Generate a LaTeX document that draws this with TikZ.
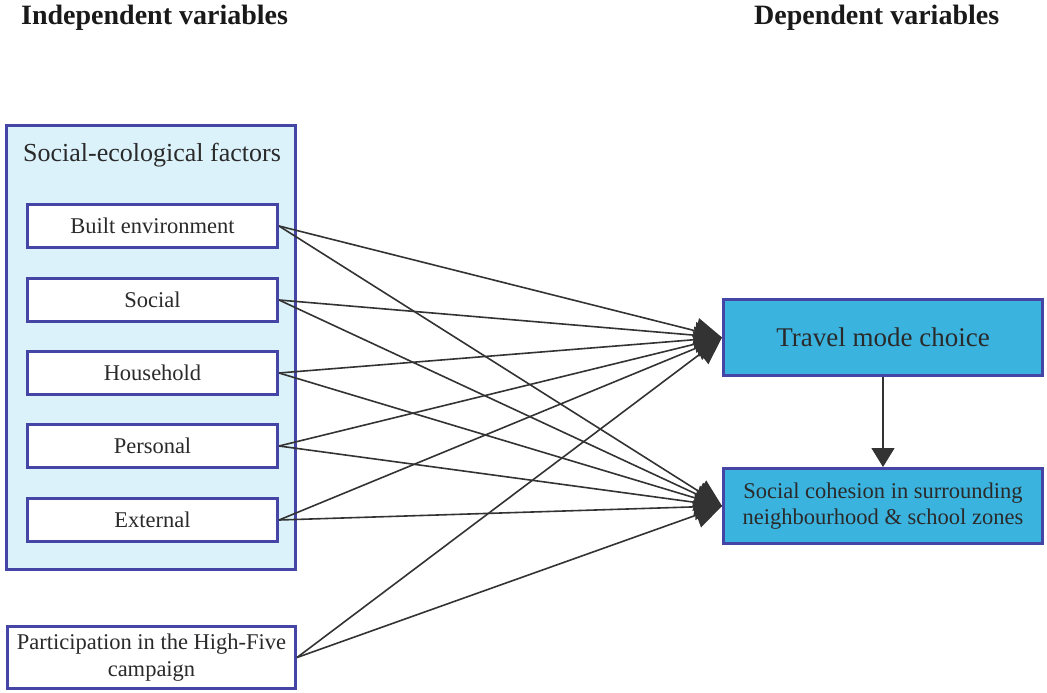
\documentclass[tikz,border=0pt]{standalone}
\usepackage{fontspec}
\setmainfont{Liberation Serif}[UprightFont=*, BoldFont=* Bold]
\newfontfamily\boxserif{Liberation Serif}[UprightFont=*, BoldFont=* Bold, ItalicFont=* Italic]
\usetikzlibrary{arrows.meta}
\definecolor{frameblue}{HTML}{4545A6}
\definecolor{paleblue}{HTML}{DCF2FA}
\definecolor{dvblue}{HTML}{3BB3DF}
\definecolor{inktext}{HTML}{2A2A2A}
\definecolor{linkgray}{HTML}{333333}
\tikzset{
  heading/.style={font=\boxserif\fontsize{28}{33}\selectfont\bfseries, text=black!90, inner sep=0pt},
  groupbox/.style={draw=frameblue, line width=3pt, fill=paleblue, inner sep=0pt},
  factorbox/.style={draw=frameblue, line width=3pt, fill=white, inner sep=0pt,
    text=inktext, font=\boxserif\fontsize{22.5}{27}\selectfont},
  outcomebox/.style={draw=frameblue, line width=3pt, fill=dvblue, inner sep=0pt,
    text=inktext, align=center},
  link/.style={draw=linkgray, line width=1.6pt, -{Triangle[length=27pt,width=26pt]}},
}
\begin{document}
\begin{tikzpicture}[x=1pt,y=-1pt]
\useasboundingbox (0,0) rectangle (1047,693);

% column headings
\node[heading, anchor=base west] (hIndep) at (21,25) {Independent variables};
\node[heading, anchor=base west] (hDep) at (754,25) {Dependent variables};

% social-ecological group
\node[groupbox, minimum width=289pt, minimum height=444pt] (group) at (151,347.5) {};
\node[text=inktext, font=\boxserif\fontsize{26}{30}\selectfont, inner sep=0pt] (groupTitle) at (152,155) {Social-ecological factors};

\node[factorbox, minimum width=250pt, minimum height=43pt] (built) at (152.5,226) {Built environment};
\node[factorbox, minimum width=250pt, minimum height=43pt] (social) at (152.5,300) {Social};
\node[factorbox, minimum width=250pt, minimum height=43pt] (household) at (152.5,373) {Household};
\node[factorbox, minimum width=250pt, minimum height=43pt] (personal) at (152.5,446) {Personal};
\node[factorbox, minimum width=250pt, minimum height=43pt] (external) at (152.5,520) {External};

\node[factorbox, minimum width=288pt, minimum height=62pt, align=center] (campaign) at (151.5,657.5)
  {Participation in the High-Five\\campaign};

% dependent variables
\node[outcomebox, minimum width=319pt, minimum height=76pt, font=\boxserif\fontsize{27}{32}\selectfont] (travel) at (883,337.5) {Travel mode choice};
\node[outcomebox, minimum width=319pt, minimum height=75pt, font=\boxserif\fontsize{22.5}{26}\selectfont] (cohesion) at (883,506)
  {Social cohesion in surrounding\\neighbourhood \& school zones};

% links from every factor to both outcomes
\foreach \src in {built,social,household,personal,external,campaign}{
  \draw[link] (\src.east) -- (travel.west);
  \draw[link] (\src.east) -- (cohesion.west);
}
\draw[link, -{Triangle[length=19pt,width=23pt]}] (travel.south) -- (cohesion.north);
\end{tikzpicture}
\end{document}
